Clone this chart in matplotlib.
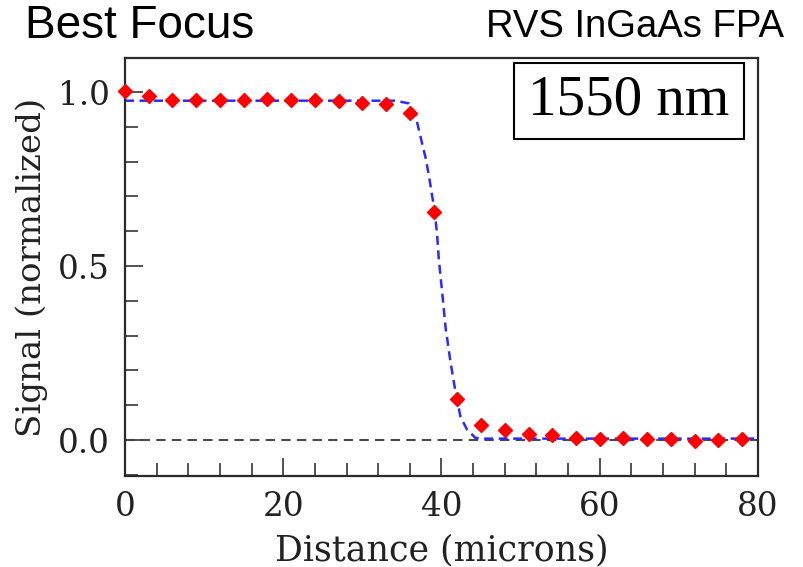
import matplotlib
matplotlib.use("Agg")
import matplotlib.pyplot as plt
from matplotlib.patches import Rectangle
from matplotlib.ticker import MultipleLocator

# Measured data (red diamonds)
distance = [0, 3, 6, 9, 12, 15, 18, 21, 24, 27, 30, 33, 36, 39, 42, 45, 48,
            51, 54, 57, 60, 63, 66, 69, 72, 75, 78]
signal = [1.003, 0.988, 0.977, 0.977, 0.977, 0.978, 0.981, 0.977, 0.977,
          0.973, 0.969, 0.965, 0.939, 0.656, 0.118, 0.043, 0.029,
          0.018, 0.013, 0.005, 0.004, 0.005, 0.002, 0.002, -0.003, -0.001, 0.002]

# Fit curve (blue dashed)
fit_x = [0, 34.2, 35.9, 36.7, 37.3, 38.0, 38.4, 38.8, 39.15, 39.45, 39.66,
         40.1, 40.5, 41.1, 41.8, 42.4, 43.25, 44.3, 45.5, 80]
fit_y = [0.975, 0.975, 0.967, 0.934, 0.876, 0.81, 0.761, 0.704, 0.656, 0.589,
         0.52, 0.421, 0.326, 0.23, 0.134, 0.067, 0.029, 0.006, 0.004, 0.004]

xticks = [0, 20, 40, 60, 80]
yticks = [0.0, 0.5, 1.0]

W, H = 804, 567
fig = plt.figure(figsize=(W / 100, H / 100), dpi=100)
ax = fig.add_axes([125 / W, 1 - 476 / H, (758 - 125) / W, (476 - 58) / H])

frame_col = "#2a2a2a"
ax.axhline(0, color="#4a4a4a", lw=1.5, ls=(0, (4.5, 3)), zorder=1)
ax.plot(fit_x, fit_y, color="#2a2aff", lw=1.8, ls=(0, (3.6, 2.2)), zorder=2)
ax.plot(distance, signal, ls="none", marker="D", ms=7.6, color="#ff0000",
        mec="#ff0000", zorder=3, clip_on=False)

ax.set_xlim(0, 80)
ax.set_ylim(-0.1034, 1.0977)
ax.set_xticks(xticks)
ax.set_yticks(yticks)
ax.set_xticklabels([str(v) for v in xticks])
ax.set_yticklabels([f"{v:.1f}" for v in yticks])
ax.xaxis.set_minor_locator(MultipleLocator(4))
ax.yaxis.set_minor_locator(MultipleLocator(0.1))

for s in ax.spines.values():
    s.set_color(frame_col)
    s.set_linewidth(1.6)

ax.tick_params(which="major", direction="in", length=13, width=1.3,
               color="#444444", top=False, right=False, labelsize=23.5,
               pad=11)
ax.tick_params(which="minor", direction="in", length=9.5, width=1.3,
               color="#444444", top=False, right=False)
for lab in ax.get_xticklabels() + ax.get_yticklabels():
    lab.set_fontfamily("DejaVu Serif")
    lab.set_color("#222222")

ax.set_xlabel("Distance (microns)", fontfamily="DejaVu Serif", fontsize=25,
              color="#222222", labelpad=7)
ax.set_ylabel("Signal (normalized)", fontfamily="DejaVu Serif", fontsize=24.5,
              color="#222222", labelpad=7)

fig.text(25 / W, 1 - 38 / H, "Best Focus", fontfamily="Liberation Sans",
         fontsize=33, ha="left", va="baseline", color="black")
fig.text(784 / W, 1 - 37 / H, "RVS InGaAs FPA", fontfamily="Liberation Sans",
         fontsize=27.5, ha="right", va="baseline", color="black")

fig.patches.append(Rectangle((514 / W, 1 - 139 / H), (744 - 514) / W,
                             (139 - 63) / H, transform=fig.transFigure,
                             fill=True, facecolor="white", edgecolor="black",
                             lw=1.5, zorder=5))
fig.text(629 / W, 1 - 101 / H, "1550 nm", fontfamily="Liberation Serif",
         fontsize=41, ha="center", va="center", color="black", zorder=6)

fig.savefig("out.png", dpi=100)
